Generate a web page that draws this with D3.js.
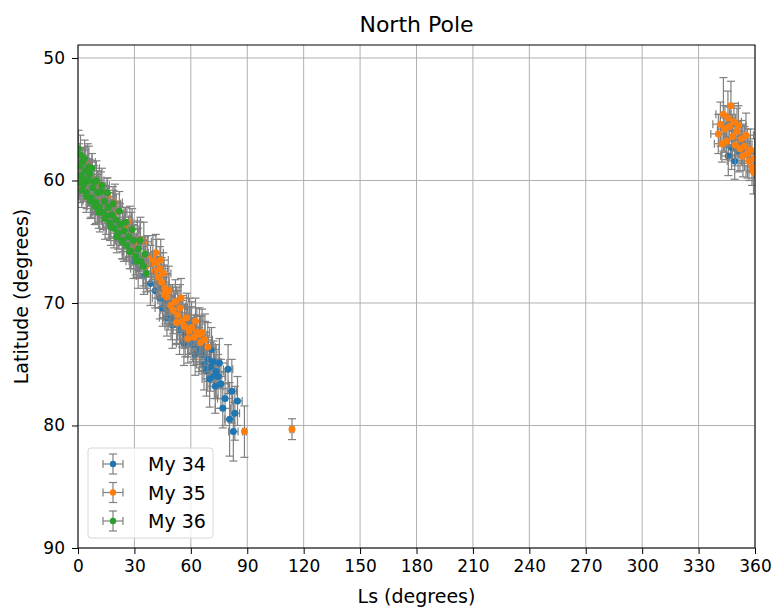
<!DOCTYPE html>
<html>
<head>
<meta charset="utf-8">
<script src="https://cdn.jsdelivr.net/npm/d3@7"></script>
<style>
body { margin: 0; background: #fff; }
text { font-family: "DejaVu Sans", sans-serif; }
</style>
</head>
<body>
<script>
// tick values for both axes
var xTicks = [0, 30, 60, 90, 120, 150, 180, 210, 240, 270, 300, 330, 360];
var yTicks = [50, 60, 70, 80, 90];

// My 34 (blue)
var ls34 = [29.5, 32.0, 35.0, 38.5, 41.0, 43.5, 45.0, 46.5, 48.0, 49.5,
    51.0, 52.5, 54.0, 55.5, 57.0, 58.5, 60.0, 61.5, 63.0, 64.5,
    66.0, 67.5, 69.0, 70.5, 72.0, 73.5, 74.5, 76.0, 77.0, 78.2,
    79.8, 80.6, 81.8, 82.6, 83.4, 84.8,
    345.8, 347.5, 349.2, 351.0, 353.5,
    44.2, 47.3, 50.2, 53.2, 56.3, 59.2, 62.3, 65.2, 68.3, 71.0,
    73.0, 75.2, 61.0, 67.0, 70.0, 72.5];
var lat34 = [66.6, 67.2, 67.8, 68.4, 69.0, 69.6, 70.4, 69.8, 70.6, 71.2,
    70.5, 71.6, 72.2, 71.4, 72.6, 72.9, 72.2, 73.4, 73.0, 73.8,
    74.2, 73.6, 74.6, 75.2, 74.8, 75.6, 76.0, 76.6, 78.6, 77.8,
    75.4, 79.5, 77.2, 80.5, 79.0, 78.0,
    58.0, 57.3, 58.4, 57.6, 57.0,
    68.7, 71.2, 71.8, 70.3, 73.3, 71.6, 74.2, 72.9, 75.5, 73.8,
    76.8, 74.9, 73.0, 75.0, 76.2, 75.9];
var yerr34 = [1.4, 1.6, 1.5, 1.8, 1.4, 1.7, 1.5, 1.9, 1.6, 1.8,
    1.5, 1.7, 2.0, 1.6, 1.8, 1.5, 1.9, 1.7, 2.0, 1.8,
    1.6, 2.1, 1.8, 2.0, 1.7, 2.2, 1.8, 2.0, 1.6, 2.2,
    2.0, 3.0, 2.6, 2.4, 2.2, 2.0,
    1.6, 1.8, 1.5, 1.7, 1.6,
    1.7, 1.5, 1.9, 1.6, 1.8, 2.0, 1.7, 1.9, 2.1, 1.8,
    2.2, 2.0, 1.8, 2.1, 2.3, 1.9];
var xerr34 = [4, 4, 4, 4, 4, 4, 4, 4, 4, 4,
    4, 4, 4, 4, 4, 4, 4, 4, 4, 4,
    4, 4, 4, 4, 4, 4, 4, 4, 4, 4,
    2.5, 2.5, 2.5, 2.5, 2.5, 2.5,
    4, 4, 4, 4, 4,
    4, 4, 4, 4, 4, 4, 4, 4, 4, 4,
    4, 4, 4, 4, 4, 4];

// My 35 (orange)
var ls35 = [0.5, 1.8, 3.2, 4.6, 6.0, 7.6, 9.2, 10.8, 12.4, 14.0,
    15.6, 17.2, 18.8, 20.4, 22.0, 23.6, 25.2, 26.8, 28.4, 30.0,
    31.6, 33.2, 35.0, 37.0, 38.6, 39.8, 40.9, 41.8, 42.7, 43.6,
    44.5, 45.4, 46.3, 47.2, 48.3, 49.4, 50.6, 51.8, 53.0, 54.2,
    55.4, 56.6, 57.8, 59.0, 60.4, 61.8, 63.2, 64.6, 66.0, 67.5,
    69.0, 88.5, 113.8,
    340.5, 341.6, 342.4, 343.2, 344.0, 344.8, 345.6, 346.4, 347.2, 348.0,
    348.8, 349.6, 350.4, 351.2, 352.0, 352.8, 353.6, 354.4, 355.2, 356.0,
    356.8, 357.6, 358.4, 359.2, 359.8,
    1.2, 5.2, 8.4, 11.6, 16.4, 19.6, 24.4, 27.6, 32.4, 36.0,
    41.4, 44.0, 45.8, 52.4, 54.8, 58.4, 62.5, 65.3];
var lat35 = [58.4, 59.3, 58.8, 59.9, 60.6, 59.7, 61.2, 60.4, 61.6, 62.0,
    61.3, 62.4, 62.1, 62.6, 63.5, 64.2, 63.7, 64.6, 64.0, 65.3,
    64.8, 64.8, 65.0, 66.2, 66.8, 66.3, 67.4, 66.7, 67.9, 67.2,
    68.3, 67.6, 68.8, 69.5, 69.0, 70.2, 70.6, 69.9, 71.0, 70.4,
    71.5, 71.9, 71.2, 72.3, 72.0, 72.8, 72.4, 72.6, 72.4, 73.0,
    73.6, 80.5, 80.3,
    56.2, 55.4, 57.0, 54.6, 55.8, 56.8, 54.9, 55.6, 53.9, 56.4,
    55.2, 57.1, 56.0, 55.5, 57.4, 56.6, 58.0, 57.2, 56.3, 57.8,
    58.4, 57.5, 58.9, 59.3, 58.2,
    60.4, 58.5, 61.5, 62.6, 63.3, 61.8, 64.9, 63.4, 66.3, 67.0,
    65.9, 66.5, 69.3, 71.6, 69.6, 72.9, 71.5, 73.2];
var yerr35 = [1.4, 1.3, 1.5, 1.2, 1.4, 1.3, 1.5, 1.2, 1.4, 1.3,
    1.5, 1.4, 1.3, 1.5, 1.4, 1.6, 1.5, 1.7, 1.4, 1.6,
    1.5, 1.8, 1.6, 1.7, 1.5, 1.8, 1.6, 1.9, 1.7, 1.8,
    2.0, 1.7, 1.9, 1.8, 2.0, 1.7, 1.9, 1.8, 2.0, 1.9,
    2.1, 1.8, 2.0, 1.9, 2.1, 1.8, 2.0, 2.2, 1.9, 2.1,
    2.0, 2.1, 0.85,
    1.6, 1.8, 1.5, 3.0, 1.9, 1.5, 2.2, 1.6, 2.0, 1.8,
    1.5, 1.7, 1.9, 1.6, 1.8, 1.5, 1.7, 1.6, 1.8, 2.0,
    1.6, 1.7, 1.5, 1.8, 1.6,
    1.4, 1.5, 1.3, 1.6, 1.4, 1.5, 1.7, 1.3, 1.6, 1.8,
    1.5, 1.7, 1.9, 1.8, 1.6, 2.0, 1.9, 2.1];
var xerr35 = [4, 4, 4, 4, 4, 4, 4, 4, 4, 4,
    4, 4, 4, 4, 4, 4, 4, 4, 4, 4,
    4, 4, 4, 4, 4, 4, 4, 4, 4, 4,
    4, 4, 4, 4, 4, 4, 4, 4, 4, 4,
    4, 4, 4, 4, 4, 4, 4, 4, 4, 4,
    4, 1, 1,
    4, 4, 4, 4, 4, 4, 4, 4, 4, 4,
    4, 4, 4, 4, 4, 4, 4, 4, 4, 4,
    4, 4, 4, 4, 4,
    4, 4, 4, 4, 4, 4, 4, 4, 4, 4,
    4, 4, 4, 4, 4, 4, 4, 4];

// My 36 (green)
var ls36 = [0.2, 0.9, 1.6, 2.4, 3.1, 3.9, 4.6, 5.4, 6.2, 7.0,
    7.8, 8.6, 9.5, 10.4, 11.3, 12.2, 13.1, 14.0, 15.0, 16.0,
    17.0, 18.0, 19.1, 20.2, 21.3, 22.4, 23.5, 24.6, 25.8, 27.0,
    28.2, 29.4, 30.7, 32.0, 33.4, 34.8, 36.3,
    0.6, 1.3, 2.0, 2.8, 3.5, 4.4, 5.8, 6.6, 7.4, 8.9,
    9.8, 11.0, 12.7, 14.4, 15.6, 17.5, 18.6, 20.6, 22.0, 23.8,
    25.2, 27.5, 28.8, 31.2, 33.0, 35.6];
var lat36 = [57.4, 58.8, 59.6, 58.5, 60.3, 59.2, 61.0, 60.0, 59.5, 61.4,
    60.6, 60.1, 61.8, 61.0, 62.2, 60.9, 62.6, 61.7, 62.9, 62.2,
    63.5, 62.8, 63.9, 63.2, 64.3, 63.6, 65.0, 64.1, 65.3, 64.6,
    65.8, 64.9, 66.2, 65.6, 66.6, 67.0, 67.6,
    60.2, 57.9, 60.8, 59.9, 58.2, 61.3, 58.9, 61.7, 59.0, 62.1,
    60.0, 62.6, 60.4, 63.1, 61.0, 63.8, 61.9, 64.6, 62.5, 64.9,
    63.4, 65.8, 64.0, 66.6, 64.9, 66.0];
var yerr36 = [1.5, 1.3, 1.6, 1.2, 1.4, 1.7, 1.3, 1.5, 1.2, 1.6,
    1.4, 1.3, 1.7, 1.5, 1.2, 1.6, 1.4, 1.3, 1.5, 1.7,
    1.4, 1.2, 1.6, 1.5, 1.3, 1.7, 1.4, 1.5, 1.2, 1.6,
    1.4, 1.3, 1.5, 1.7, 1.4, 1.6, 1.5,
    1.3, 1.6, 1.4, 1.2, 1.5, 1.3, 1.7, 1.4, 1.2, 1.5,
    1.6, 1.3, 1.4, 1.7, 1.2, 1.5, 1.4, 1.3, 1.6, 1.5,
    1.2, 1.4, 1.7, 1.3, 1.5, 1.4];
var xerr36 = [4, 4, 4, 4, 4, 4, 4, 4, 4, 4,
    4, 4, 4, 4, 4, 4, 4, 4, 4, 4,
    4, 4, 4, 4, 4, 4, 4, 4, 4, 4,
    4, 4, 4, 4, 4, 4, 4,
    4, 4, 4, 4, 4, 4, 4, 4, 4, 4,
    4, 4, 4, 4, 4, 4, 4, 4, 4, 4,
    4, 4, 4, 4, 4, 4];

var seriesNames = ["My 34", "My 35", "My 36"];
var seriesColors = ["#1f77b4", "#ff7f0e", "#2ca02c"];

// build one list of points per series
function toPoints(ls, lat, xe, ye) {
    return ls.map(function(d, i) {
        return {x: d, y: lat[i], xe: xe[i], ye: ye[i]};
    });
}
var series = [
    toPoints(ls34, lat34, xerr34, yerr34),
    toPoints(ls35, lat35, xerr35, yerr35),
    toPoints(ls36, lat36, xerr36, yerr36)
];

var margin = {top: 45, right: 17, bottom: 60, left: 78},
    width = 772 - margin.left - margin.right,
    height = 608 - margin.top - margin.bottom;

var svg = d3.select("body").append("svg")
    .attr("width", 772)
    .attr("height", 608)
    .append("g")
    .attr("transform", "translate(" + margin.left + "," + margin.top + ")");

var xScale = d3.scaleLinear().domain([0, 360]).range([0, width]);
// latitude runs downward: 50 near the top, 90 at the bottom
var yScale = d3.scaleLinear().domain([48.94, 90]).range([0, height]);

// grid
svg.append("g").selectAll("line")
    .data(xTicks).enter().append("line")
    .attr("x1", function(d) { return xScale(d); })
    .attr("x2", function(d) { return xScale(d); })
    .attr("y1", 0).attr("y2", height)
    .attr("stroke", "#b0b0b0").attr("stroke-width", 1);
svg.append("g").selectAll("line")
    .data(yTicks).enter().append("line")
    .attr("y1", function(d) { return yScale(d); })
    .attr("y2", function(d) { return yScale(d); })
    .attr("x1", 0).attr("x2", width)
    .attr("stroke", "#b0b0b0").attr("stroke-width", 1);

svg.append("clipPath").attr("id", "plotclip")
    .append("rect").attr("width", width).attr("height", height);

var plot = svg.append("g").attr("clip-path", "url(#plotclip)");
var cap = 4;
var ecol = "#808080";

series.forEach(function(pts, si) {
    var g = plot.append("g");
    var bars = g.selectAll(".eb").data(pts).enter().append("g");
    // vertical error bars
    bars.append("line")
        .attr("x1", function(d) { return xScale(d.x); })
        .attr("x2", function(d) { return xScale(d.x); })
        .attr("y1", function(d) { return yScale(d.y - d.ye); })
        .attr("y2", function(d) { return yScale(d.y + d.ye); });
    // horizontal error bars
    bars.append("line")
        .attr("y1", function(d) { return yScale(d.y); })
        .attr("y2", function(d) { return yScale(d.y); })
        .attr("x1", function(d) { return xScale(d.x - d.xe); })
        .attr("x2", function(d) { return xScale(d.x + d.xe); });
    // caps on both ends
    [-1, 1].forEach(function(s) {
        bars.append("line")
            .attr("x1", function(d) { return xScale(d.x) - cap; })
            .attr("x2", function(d) { return xScale(d.x) + cap; })
            .attr("y1", function(d) { return yScale(d.y + s * d.ye); })
            .attr("y2", function(d) { return yScale(d.y + s * d.ye); });
        bars.append("line")
            .attr("y1", function(d) { return yScale(d.y) - cap; })
            .attr("y2", function(d) { return yScale(d.y) + cap; })
            .attr("x1", function(d) { return xScale(d.x + s * d.xe); })
            .attr("x2", function(d) { return xScale(d.x + s * d.xe); });
    });
    bars.selectAll("line").attr("stroke", ecol).attr("stroke-width", 1.2);

    g.selectAll("circle").data(pts).enter().append("circle")
        .attr("cx", function(d) { return xScale(d.x); })
        .attr("cy", function(d) { return yScale(d.y); })
        .attr("r", 3.5)
        .attr("fill", seriesColors[si]);
});

// axes
var xAxis = d3.axisBottom(xScale).tickValues(xTicks).tickSize(6).tickPadding(6);
var yAxis = d3.axisLeft(yScale).tickValues(yTicks).tickSize(6).tickPadding(7);

var gx = svg.append("g")
    .attr("transform", "translate(0," + height + ")")
    .call(xAxis);
var gy = svg.append("g").call(yAxis);
[gx, gy].forEach(function(g) {
    g.select(".domain").remove();
    g.selectAll("text").attr("font-size", "17px").attr("fill", "#000")
        .attr("font-family", "DejaVu Sans");
    g.selectAll("line").attr("stroke", "#000");
});

// frame
svg.append("rect")
    .attr("width", width).attr("height", height)
    .attr("fill", "none").attr("stroke", "#000").attr("stroke-width", 1);

// labels
svg.append("text")
    .attr("x", width / 2).attr("y", -13)
    .attr("text-anchor", "middle")
    .attr("font-size", "22px")
    .text("North Pole");
svg.append("text")
    .attr("x", width / 2).attr("y", height + 55)
    .attr("text-anchor", "middle")
    .attr("font-size", "19px")
    .text("Ls (degrees)");
svg.append("text")
    .attr("transform", "rotate(-90)")
    .attr("x", -height / 2).attr("y", -50)
    .attr("text-anchor", "middle")
    .attr("font-size", "19px")
    .text("Latitude (degrees)");

// legend
var legend = svg.append("g").attr("transform", "translate(10," + (height - 100) + ")");
legend.append("rect")
    .attr("width", 125).attr("height", 90).attr("rx", 3)
    .attr("fill", "#fff").attr("fill-opacity", 0.8)
    .attr("stroke", "#d6d6d6");
seriesNames.forEach(function(name, i) {
    var cy = 16 + i * 28.5, cx = 25;
    var e = legend.append("g");
    e.append("line").attr("x1", cx - 10).attr("x2", cx + 10)
        .attr("y1", cy).attr("y2", cy);
    e.append("line").attr("x1", cx).attr("x2", cx)
        .attr("y1", cy - 10).attr("y2", cy + 10);
    e.append("line").attr("x1", cx - 4).attr("x2", cx + 4)
        .attr("y1", cy - 10).attr("y2", cy - 10);
    e.append("line").attr("x1", cx - 4).attr("x2", cx + 4)
        .attr("y1", cy + 10).attr("y2", cy + 10);
    e.append("line").attr("x1", cx - 10).attr("x2", cx - 10)
        .attr("y1", cy - 4).attr("y2", cy + 4);
    e.append("line").attr("x1", cx + 10).attr("x2", cx + 10)
        .attr("y1", cy - 4).attr("y2", cy + 4);
    e.selectAll("line").attr("stroke", ecol).attr("stroke-width", 1.2);
    e.append("circle").attr("cx", cx).attr("cy", cy).attr("r", 3.2)
        .attr("fill", seriesColors[i]);
    legend.append("text")
        .attr("x", 60).attr("y", cy + 7)
        .attr("font-size", "19px")
        .text(name);
});
</script>
</body>
</html>
